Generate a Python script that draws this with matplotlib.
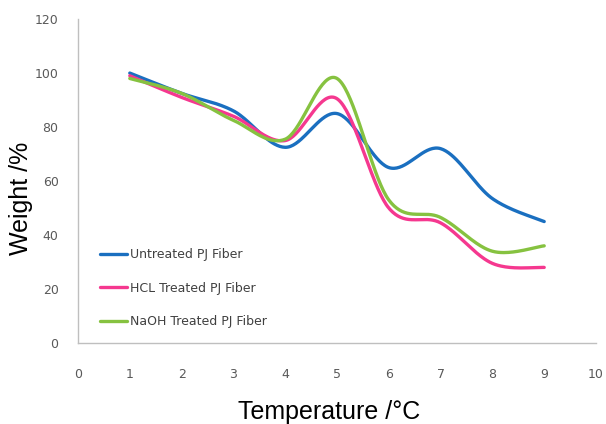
import numpy as np
import matplotlib
matplotlib.use("Agg")
import matplotlib.pyplot as plt

temperature = [1, 2, 3, 4, 5, 6, 7, 8, 9]
untreated = [100, 92.5, 86, 72.5, 85, 65, 72, 53.5, 45]
hcl_treated = [99, 91, 84, 75, 90.5, 50, 44.5, 29.5, 28]
naoh_treated = [98, 92.5, 82.5, 75.5, 98, 53, 46.5, 34, 36]

series_names = ["Untreated PJ Fiber", "HCL Treated PJ Fiber", "NaOH Treated PJ Fiber"]
series_colors = ["#1a6fc0", "#f5388f", "#86c240"]
x_ticks = list(range(0, 11))
y_ticks = list(range(0, 121, 20))


def smooth(xs, ys, n=40):
    xs = np.asarray(xs, float)
    ys = np.asarray(ys, float)
    px = np.concatenate([[xs[0]], xs, [xs[-1]]])
    py = np.concatenate([[ys[0]], ys, [ys[-1]]])
    outx, outy = [], []
    t = np.linspace(0, 1, n)
    for i in range(1, len(px) - 2):
        p0x, p0y = px[i], py[i]
        p3x, p3y = px[i + 1], py[i + 1]
        c1x = p0x + (px[i + 1] - px[i - 1]) / 6
        c1y = p0y + (py[i + 1] - py[i - 1]) / 6
        c2x = p3x - (px[i + 2] - px[i]) / 6
        c2y = p3y - (py[i + 2] - py[i]) / 6
        bx = (1 - t) ** 3 * p0x + 3 * (1 - t) ** 2 * t * c1x + 3 * (1 - t) * t ** 2 * c2x + t ** 3 * p3x
        by = (1 - t) ** 3 * p0y + 3 * (1 - t) ** 2 * t * c1y + 3 * (1 - t) * t ** 2 * c2y + t ** 3 * p3y
        outx.extend(bx)
        outy.extend(by)
    return np.array(outx), np.array(outy)


fig = plt.figure(figsize=(6.06, 4.24), dpi=100)
ax = fig.add_axes([0.1287, 0.191, 0.8548, 0.764])

for name, vals, col in zip(series_names, [untreated, hcl_treated, naoh_treated], series_colors):
    sx, sy = smooth(temperature, vals)
    ax.plot(sx, sy, color=col, lw=2.4, label=name, solid_capstyle="round")

ax.set_xlim(0, 10)
ax.set_ylim(0, 120)
ax.set_xticks(x_ticks)
ax.set_yticks(y_ticks)
for s in ["top", "right"]:
    ax.spines[s].set_visible(False)
for s in ["left", "bottom"]:
    ax.spines[s].set_color("#bfbfbf")
    ax.spines[s].set_linewidth(1.0)
ax.tick_params(axis="both", length=0, labelsize=9, labelcolor="#595959")
ax.tick_params(axis="x", pad=18)
ax.tick_params(axis="y", pad=14)

ax.set_xlabel("Temperature /°C", fontsize=18, family="Liberation Sans", va="center")
ax.xaxis.set_label_coords(0.485, -0.213)
ax.set_ylabel("Weight /%", fontsize=18, family="Liberation Sans", va="center")
ax.yaxis.set_label_coords(-0.11, 0.448)

leg = ax.legend(loc="lower left", bbox_to_anchor=(0.02, 0.011), frameon=False,
                fontsize=9, handlelength=2.2, handletextpad=0.2, labelspacing=1.64)
for t in leg.get_texts():
    t.set_color("#404040")

fig.savefig("out.png", dpi=100)
